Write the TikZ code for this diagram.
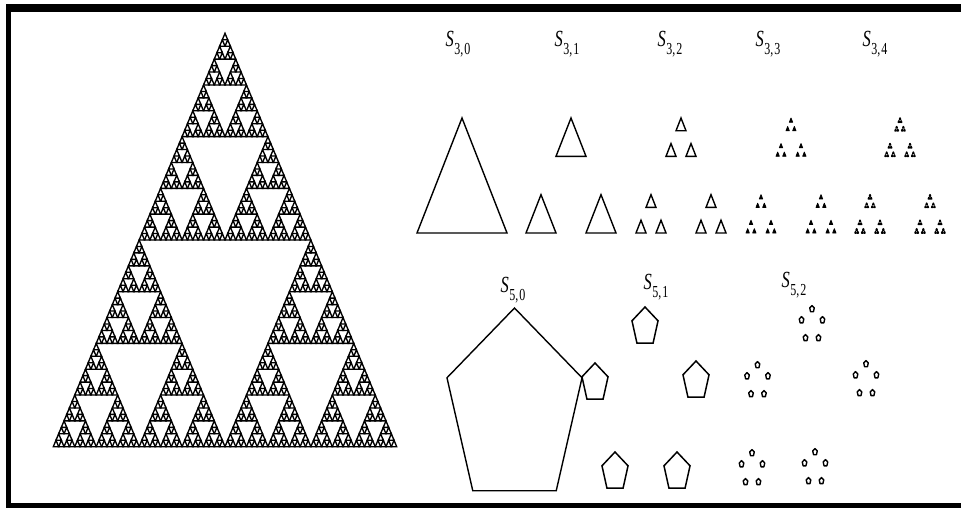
\documentclass[tikz,border=0pt]{standalone}
\usepackage{graphicx}
\usepackage{fontspec}
\setmainfont{Liberation Serif}
\tikzset{
  sierline/.style={draw=black,line width=1.35pt,line join=miter},
  trione/.style={draw=black,line width=1.4pt,line join=miter},
  tritwo/.style={draw=black,line width=1.4pt,line join=miter},
  trithree/.style={draw=black,fill=black,line width=0.8pt,line join=round},
  trifour/.style={draw=black,fill=black,line width=1.5pt,line join=round},
  pentbig/.style={draw=black,line width=1.4pt,line join=miter},
  pentsmall/.style={draw=black,line width=1.5pt,line join=miter},
  pentdot/.style={draw=black,line width=1.4pt,line join=round},
  lbl/.style={inner sep=0pt,anchor=center}
}
\newcommand\sierp[5]{%
  \ifnum#1=0\relax
    \draw[sierline] (#2,#3) -- ++(#4,0) -- ++(-#4/2,-#5) -- cycle;
  \else
    \begingroup
    \pgfmathsetmacro\sw{#4/2}\pgfmathsetmacro\sh{#5/2}%
    \pgfmathsetmacro\sxa{#2+\sw}\pgfmathsetmacro\sxb{#2+\sw/2}\pgfmathsetmacro\syb{#3-\sh}%
    \pgfmathtruncatemacro\sl{#1-1}%
    \edef\sierpnext{\noexpand\sierp{\sl}{#2}{#3}{\sw}{\sh}\noexpand\sierp{\sl}{\sxa}{#3}{\sw}{\sh}\noexpand\sierp{\sl}{\sxb}{\syb}{\sw}{\sh}}%
    \sierpnext
    \endgroup
  \fi}
\newcommand\dust[6]{%
  \ifnum#1=0\relax
    \draw[#6] (#2,#3) -- ++(#4,0) -- ++(-#4/2,-#5) -- cycle;
  \else
    \begingroup
    \pgfmathsetmacro\dw{#4/3}\pgfmathsetmacro\dh{#5/3}%
    \pgfmathsetmacro\dxa{#2+2*\dw}\pgfmathsetmacro\dxb{#2+\dw}\pgfmathsetmacro\dyb{#3-2*\dh}%
    \pgfmathtruncatemacro\dl{#1-1}%
    \edef\dustnext{\noexpand\dust{\dl}{#2}{#3}{\dw}{\dh}{#6}\noexpand\dust{\dl}{\dxa}{#3}{\dw}{\dh}{#6}\noexpand\dust{\dl}{\dxb}{\dyb}{\dw}{\dh}{#6}}%
    \dustnext
    \endgroup
  \fi}
\newcommand\pent[4]{\draw[#1] #2 +(-90:#3 and #4) -- +(-18:#3 and #4) -- +(54:#3 and #4) -- +(126:#3 and #4) -- +(198:#3 and #4) -- cycle;}
\newcommand\pcluster[2]{%
  \begin{scope}[shift={(#1,#2)}]
    \foreach \a in {-90,-18,54,126,198} {\pent{pentdot}{(\a:11 and 16)}{2.4}{3.4}}
  \end{scope}}
\newcommand\Slab[1]{\scalebox{1}[1.4]{\fontsize{16.5}{18}\selectfont\textit{S}\kern0.3pt\raisebox{-5.5pt}{\fontsize{12}{13}\selectfont #1}}}
\begin{document}
\begin{tikzpicture}[x=1pt,y=-1pt]
\useasboundingbox (0,0) rectangle (961,508);
\fill[white] (0,0) rectangle (961,508);
% frame
\fill[black] (6,4.5) rectangle (961,11.7);
\fill[black] (6,4.5) rectangle (11.2,508);
\fill[black] (6,502.8) rectangle (961,508);
% Sierpinski gasket
\sierp{6}{53.3}{446.7}{343.4}{413.4}
% S_{3,k}
\dust{0}{417}{233}{90}{115}{trione}
\dust{1}{526}{233}{90}{115}{trione}
\dust{2}{636}{233}{90}{115}{tritwo}
\dust{3}{746}{233}{90}{115}{trithree}
\dust{4}{855}{233}{90}{115}{trifour}
\node[lbl] (l30) at (458,44) {\Slab{3,\kern1pt0}};
\node[lbl] (l31) at (567,44) {\Slab{3,\kern1pt1}};
\node[lbl] (l32) at (670,44) {\Slab{3,\kern1pt2}};
\node[lbl] (l33) at (768,44) {\Slab{3,\kern1pt3}};
\node[lbl] (l34) at (875,44) {\Slab{3,\kern1pt4}};
% S_{5,k}
\pent{pentbig}{(514.5,409)}{71}{101}
\pent{pentsmall}{(645,327)}{13.7}{20}
\pent{pentsmall}{(595,383)}{13.7}{20}
\pent{pentsmall}{(696,381)}{13.7}{20}
\pent{pentsmall}{(615,472)}{13.7}{20}
\pent{pentsmall}{(677,472)}{13.7}{20}
\pcluster{812}{325}
\pcluster{757.5}{381}
\pcluster{866}{380}
\pcluster{752}{469}
\pcluster{815}{468}
\node[lbl] (l50) at (513,290) {\Slab{5,\kern1pt0}};
\node[lbl] (l51) at (656,287) {\Slab{5,\kern1pt1}};
\node[lbl] (l52) at (794,285) {\Slab{5,\kern1pt2}};
\end{tikzpicture}
\end{document}
